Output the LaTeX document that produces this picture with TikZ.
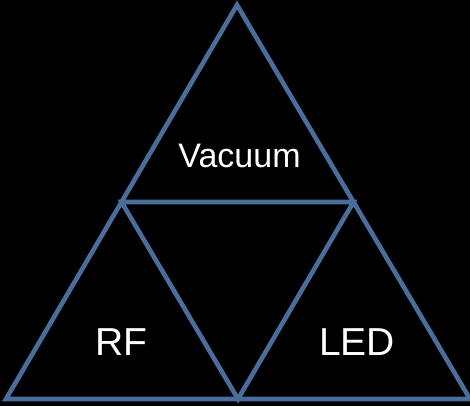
\documentclass[tikz,border=0pt]{standalone}
\usepackage{fontspec}
\setmainfont{Liberation Sans}
\usetikzlibrary{calc}
\definecolor{edgeblue}{HTML}{4A6E9C}
\begin{document}
\begin{tikzpicture}[x=1pt,y=-1pt,
  edge/.style={draw=edgeblue,line width=4.6pt,line join=miter,line cap=butt},
  lbl/.style={text=white,inner sep=0pt,anchor=base}]
\fill[black] (0,0) rectangle (470,406);
\useasboundingbox (0,0) rectangle (470,406);
\coordinate (A) at (237,5);
\coordinate (B) at (6,399);
\coordinate (C) at (470,399);
\coordinate (AB) at ($(A)!0.5!(B)$);
\coordinate (AC) at ($(A)!0.5!(C)$);
\coordinate (BC) at ($(B)!0.5!(C)$);
\draw[edge] (A) -- (B) -- (C) -- cycle;
\draw[edge] (AB) -- (AC) -- (BC) -- cycle;
\node[lbl,font=\fontsize{34}{38}\selectfont] (vac) at (239.5,167) {Vacuum};
\node[lbl,font=\fontsize{39}{44}\selectfont] (rf) at (121,355) {RF};
\node[lbl,font=\fontsize{39}{44}\selectfont] (led) at (357,355) {LED};
\end{tikzpicture}
\end{document}
